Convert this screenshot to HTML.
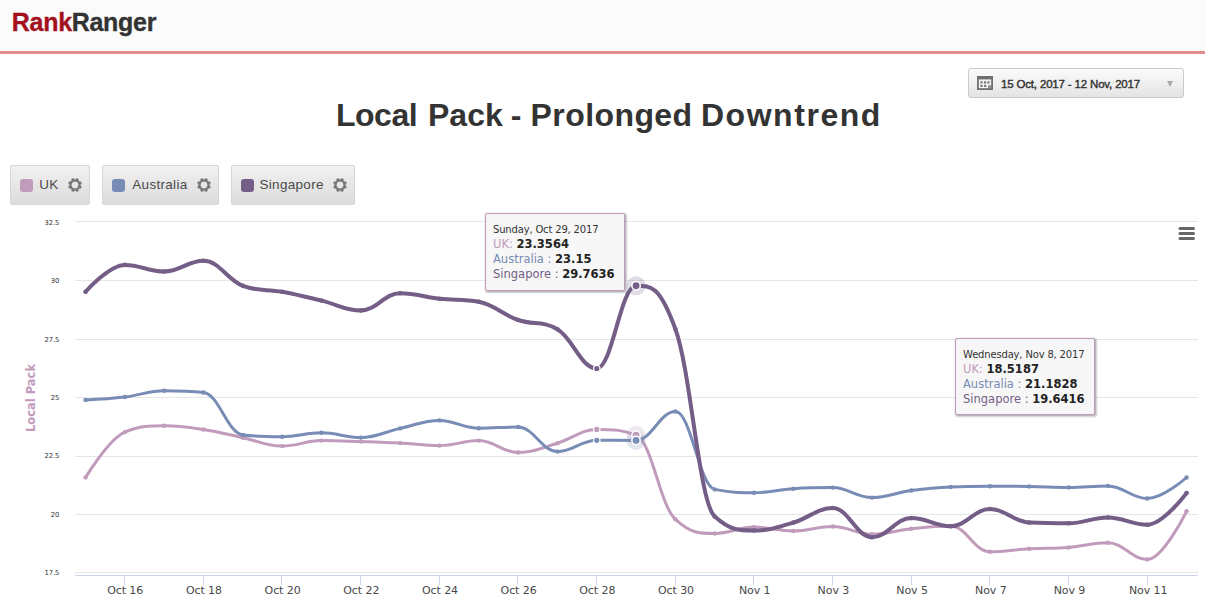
<!DOCTYPE html>
<html><head><meta charset="utf-8"><title>Local Pack - Prolonged Downtrend</title>
<style>
*{margin:0;padding:0;box-sizing:border-box}
html,body{width:1205px;height:615px;overflow:hidden;background:#fff}
body{position:relative;font-family:"Liberation Sans",Arial,sans-serif}
.hdr{position:absolute;left:0;top:0;width:1205px;height:54px;background:#fbfbfb;border-bottom:3px solid #e28c8c}
.logo{position:absolute;left:11.8px;top:6px;font:bold 25px/32px "Liberation Sans",Arial,sans-serif;letter-spacing:-0.3px;color:#333;-webkit-text-stroke:0.35px currentColor}
.logo b{color:#a3111e}
.dp{position:absolute;left:968px;top:68px;width:216px;height:30px;border:1px solid #c9c9c9;border-radius:3px;background:linear-gradient(#fbfbfb,#e4e4e4)}
.dp .cal{position:absolute;left:8px;top:7px}
.dp .dt{position:absolute;left:32px;top:8px;font:11.5px/14px "Liberation Sans",Arial,sans-serif;color:#333;-webkit-text-stroke:0.4px #333;letter-spacing:-0.17px}
.dp .ar{position:absolute;left:197.5px;top:12px;width:0;height:0;border-left:3.3px solid transparent;border-right:3.3px solid transparent;border-top:6px solid #aaa}
h1{position:absolute;left:0;width:1205px;height:40px;top:95px;font:bold 32px/40px "Liberation Sans",Arial,sans-serif;color:#333}h1 span{position:absolute;top:0;white-space:nowrap}
.lg{position:absolute;top:165px;height:40px;border:1px solid #d6d6d6;border-radius:2px;background:linear-gradient(#f1f1f1,#dcdcdc)}
.lg .sw{position:absolute;left:9px;top:12.8px;width:13px;height:13px;border-radius:3px}
.lg .ln{position:absolute;left:29.5px;top:11px;letter-spacing:0.3px;font:13.5px/16px "Liberation Sans",Arial,sans-serif;color:#4a4a4a}
.lg .gear{position:absolute;right:6px;top:11px}
.chart{position:absolute;left:0;top:0}
.xl{font:11px "DejaVu Sans",sans-serif;fill:#484848;letter-spacing:-0.08px}
.yl{font:6.8px "DejaVu Sans",sans-serif;fill:#333;letter-spacing:-0.05px}
.yt{font:bold 11.5px "DejaVu Sans",sans-serif;fill:#c19bbb}
.tt{font:11.5px "DejaVu Sans",sans-serif;fill:#333;letter-spacing:0px}
.th{font-size:10px;letter-spacing:-0.17px}
.tv{font-weight:bold;fill:#222}
</style></head><body>
<div class="hdr"><div class="logo"><b>Rank</b>Ranger</div></div>
<div class="dp"><svg class="cal" width="16" height="14" viewBox="0 0 16 14"><rect x="0" y="0" width="16" height="14" fill="#6f6f6f"/><rect x="1.8" y="3.4" width="12.4" height="8.8" fill="#f2f2f2"/><g fill="#777"><rect x="3.4" y="5.3" width="2.2" height="2.2"/><rect x="7" y="5.3" width="2.2" height="2.2"/><rect x="10.4" y="5.3" width="2.2" height="2.2"/><rect x="3.4" y="8.8" width="2.2" height="2.2"/><rect x="7" y="8.8" width="2.2" height="2.2"/></g><rect x="11.3" y="9.4" width="3" height="3" fill="#6f6f6f"/><path d="M12.4 11.8 L13.6 10.3" stroke="#ddd" stroke-width="0.8"/></svg><span class="dt">15 Oct, 2017 - 12 Nov, 2017</span><span class="ar"></span></div>
<h1><span style="left:336px;letter-spacing:-0.5px">Local</span> <span style="left:428px">Pack</span> <span style="left:510.8px">-</span> <span style="left:530.6px;letter-spacing:0.41px">Prolonged</span> <span style="left:700.9px;letter-spacing:1.55px">Downtrend</span></h1>
<div class="lg" style="left:10px;width:80px"><span class="sw" style="background:#c19bbb"></span><span class="ln" style="left:28.3px">UK</span><svg class="gear" width="16" height="16" viewBox="-8 -8 16 16"><g fill="#787878"><circle cx="4.90" cy="2.03" r="1.75"/><circle cx="2.03" cy="4.90" r="1.75"/><circle cx="-2.03" cy="4.90" r="1.75"/><circle cx="-4.90" cy="2.03" r="1.75"/><circle cx="-4.90" cy="-2.03" r="1.75"/><circle cx="-2.03" cy="-4.90" r="1.75"/><circle cx="2.03" cy="-4.90" r="1.75"/><circle cx="4.90" cy="-2.03" r="1.75"/><circle r="4.45" fill="none" stroke="#787878" stroke-width="1.9"/></g></svg></div><div class="lg" style="left:102px;width:117px"><span class="sw" style="background:#788cb5"></span><span class="ln" style="left:29.3px">Australia</span><svg class="gear" width="16" height="16" viewBox="-8 -8 16 16"><g fill="#787878"><circle cx="4.90" cy="2.03" r="1.75"/><circle cx="2.03" cy="4.90" r="1.75"/><circle cx="-2.03" cy="4.90" r="1.75"/><circle cx="-4.90" cy="2.03" r="1.75"/><circle cx="-4.90" cy="-2.03" r="1.75"/><circle cx="-2.03" cy="-4.90" r="1.75"/><circle cx="2.03" cy="-4.90" r="1.75"/><circle cx="4.90" cy="-2.03" r="1.75"/><circle r="4.45" fill="none" stroke="#787878" stroke-width="1.9"/></g></svg></div><div class="lg" style="left:231px;width:124px"><span class="sw" style="background:#745e87"></span><span class="ln" style="left:27.5px">Singapore</span><svg class="gear" width="16" height="16" viewBox="-8 -8 16 16"><g fill="#787878"><circle cx="4.90" cy="2.03" r="1.75"/><circle cx="2.03" cy="4.90" r="1.75"/><circle cx="-2.03" cy="4.90" r="1.75"/><circle cx="-4.90" cy="2.03" r="1.75"/><circle cx="-4.90" cy="-2.03" r="1.75"/><circle cx="-2.03" cy="-4.90" r="1.75"/><circle cx="2.03" cy="-4.90" r="1.75"/><circle cx="4.90" cy="-2.03" r="1.75"/><circle r="4.45" fill="none" stroke="#787878" stroke-width="1.9"/></g></svg></div>
<svg class="chart" width="1205" height="615" viewBox="0 0 1205 615">
<path d="M 75 221.5 L 1198 221.5" stroke="#e6e6e6" stroke-width="1"/>
<path d="M 75 280.5 L 1198 280.5" stroke="#e6e6e6" stroke-width="1"/>
<path d="M 75 339.5 L 1198 339.5" stroke="#e6e6e6" stroke-width="1"/>
<path d="M 75 397.5 L 1198 397.5" stroke="#e6e6e6" stroke-width="1"/>
<path d="M 75 456.5 L 1198 456.5" stroke="#e6e6e6" stroke-width="1"/>
<path d="M 75 514.5 L 1198 514.5" stroke="#e6e6e6" stroke-width="1"/>
<path d="M 75 572.5 L 1198 572.5" stroke="#e6e6e6" stroke-width="1"/>
<path d="M 75 575.5 L 1198 575.5" stroke="#ccd6eb" stroke-width="1"/>
<path d="M 124.5 575 L 124.5 585" stroke="#ccd6eb" stroke-width="1"/>
<text x="125.2" y="594" text-anchor="middle" class="xl">Oct 16</text>
<path d="M 203.5 575 L 203.5 585" stroke="#ccd6eb" stroke-width="1"/>
<text x="203.9" y="594" text-anchor="middle" class="xl">Oct 18</text>
<path d="M 281.5 575 L 281.5 585" stroke="#ccd6eb" stroke-width="1"/>
<text x="282.6" y="594" text-anchor="middle" class="xl">Oct 20</text>
<path d="M 360.5 575 L 360.5 585" stroke="#ccd6eb" stroke-width="1"/>
<text x="361.3" y="594" text-anchor="middle" class="xl">Oct 22</text>
<path d="M 439.5 575 L 439.5 585" stroke="#ccd6eb" stroke-width="1"/>
<text x="440.0" y="594" text-anchor="middle" class="xl">Oct 24</text>
<path d="M 517.5 575 L 517.5 585" stroke="#ccd6eb" stroke-width="1"/>
<text x="518.6" y="594" text-anchor="middle" class="xl">Oct 26</text>
<path d="M 596.5 575 L 596.5 585" stroke="#ccd6eb" stroke-width="1"/>
<text x="597.3" y="594" text-anchor="middle" class="xl">Oct 28</text>
<path d="M 675.5 575 L 675.5 585" stroke="#ccd6eb" stroke-width="1"/>
<text x="676.0" y="594" text-anchor="middle" class="xl">Oct 30</text>
<path d="M 753.5 575 L 753.5 585" stroke="#ccd6eb" stroke-width="1"/>
<text x="754.7" y="594" text-anchor="middle" class="xl">Nov 1</text>
<path d="M 832.5 575 L 832.5 585" stroke="#ccd6eb" stroke-width="1"/>
<text x="833.4" y="594" text-anchor="middle" class="xl">Nov 3</text>
<path d="M 911.5 575 L 911.5 585" stroke="#ccd6eb" stroke-width="1"/>
<text x="912.1" y="594" text-anchor="middle" class="xl">Nov 5</text>
<path d="M 989.5 575 L 989.5 585" stroke="#ccd6eb" stroke-width="1"/>
<text x="990.8" y="594" text-anchor="middle" class="xl">Nov 7</text>
<path d="M 1068.5 575 L 1068.5 585" stroke="#ccd6eb" stroke-width="1"/>
<text x="1069.5" y="594" text-anchor="middle" class="xl">Nov 9</text>
<path d="M 1147.5 575 L 1147.5 585" stroke="#ccd6eb" stroke-width="1"/>
<text x="1148.2" y="594" text-anchor="middle" class="xl">Nov 11</text>
<text x="59.4" y="225.0" text-anchor="end" class="yl">32.5</text>
<text x="59.4" y="283.3" text-anchor="end" class="yl">30</text>
<text x="59.4" y="341.6" text-anchor="end" class="yl">27.5</text>
<text x="59.4" y="400.0" text-anchor="end" class="yl">25</text>
<text x="59.4" y="458.3" text-anchor="end" class="yl">22.5</text>
<text x="59.4" y="516.6" text-anchor="end" class="yl">20</text>
<text x="59.4" y="574.9" text-anchor="end" class="yl">17.5</text>
<text transform="translate(34.5 398) rotate(-90)" text-anchor="middle" class="yt">Local Pack</text>
<path d="M 85.60 477.40 C 85.60 477.40 109.19 438.40 124.92 432.10 C 140.65 425.80 148.51 425.80 164.24 425.80 C 179.97 425.80 187.83 427.12 203.56 429.50 C 219.29 431.88 227.15 434.38 242.88 437.70 C 258.61 441.02 266.47 446.10 282.20 446.10 C 297.93 446.10 305.79 440.60 321.52 440.60 C 337.25 440.60 345.11 441.10 360.84 441.60 C 376.57 442.10 384.43 442.30 400.16 443.10 C 415.89 443.90 423.75 445.60 439.48 445.60 C 455.21 445.60 463.07 440.60 478.80 440.60 C 494.53 440.60 502.39 452.50 518.12 452.50 C 533.85 452.50 541.71 447.82 557.44 443.20 C 573.17 438.58 581.03 429.40 596.76 429.40 C 612.49 429.40 620.35 429.40 636.08 435.20 C 651.81 441.00 659.67 505.10 675.40 519.30 C 691.13 533.50 698.99 533.50 714.72 533.50 C 730.45 533.50 738.31 527.10 754.04 527.10 C 769.77 527.10 777.63 531.00 793.36 531.00 C 809.09 531.00 816.95 526.50 832.68 526.50 C 848.41 526.50 856.27 534.20 872.00 534.20 C 887.73 534.20 895.59 530.34 911.32 528.70 C 927.05 527.06 934.91 526.00 950.64 526.00 C 966.37 526.00 974.23 551.80 989.96 551.80 C 1005.69 551.80 1013.55 549.58 1029.28 548.70 C 1045.01 547.82 1052.87 548.60 1068.60 547.40 C 1084.33 546.20 1092.19 542.70 1107.92 542.70 C 1123.65 542.70 1131.51 559.40 1147.24 559.40 C 1162.97 559.40 1186.56 511.30 1186.56 511.30" fill="none" stroke="#c19bbb" stroke-width="3" stroke-linejoin="round" stroke-linecap="round"/>
<circle cx="85.60" cy="477.40" r="2.2" fill="#c19bbb"/><circle cx="124.92" cy="432.10" r="2.2" fill="#c19bbb"/><circle cx="164.24" cy="425.80" r="2.2" fill="#c19bbb"/><circle cx="203.56" cy="429.50" r="2.2" fill="#c19bbb"/><circle cx="242.88" cy="437.70" r="2.2" fill="#c19bbb"/><circle cx="282.20" cy="446.10" r="2.2" fill="#c19bbb"/><circle cx="321.52" cy="440.60" r="2.2" fill="#c19bbb"/><circle cx="360.84" cy="441.60" r="2.2" fill="#c19bbb"/><circle cx="400.16" cy="443.10" r="2.2" fill="#c19bbb"/><circle cx="439.48" cy="445.60" r="2.2" fill="#c19bbb"/><circle cx="478.80" cy="440.60" r="2.2" fill="#c19bbb"/><circle cx="518.12" cy="452.50" r="2.2" fill="#c19bbb"/><circle cx="557.44" cy="443.20" r="2.2" fill="#c19bbb"/><circle cx="596.76" cy="429.40" r="2.2" fill="#c19bbb"/><circle cx="636.08" cy="435.20" r="2.2" fill="#c19bbb"/><circle cx="675.40" cy="519.30" r="2.2" fill="#c19bbb"/><circle cx="714.72" cy="533.50" r="2.2" fill="#c19bbb"/><circle cx="754.04" cy="527.10" r="2.2" fill="#c19bbb"/><circle cx="793.36" cy="531.00" r="2.2" fill="#c19bbb"/><circle cx="832.68" cy="526.50" r="2.2" fill="#c19bbb"/><circle cx="872.00" cy="534.20" r="2.2" fill="#c19bbb"/><circle cx="911.32" cy="528.70" r="2.2" fill="#c19bbb"/><circle cx="950.64" cy="526.00" r="2.2" fill="#c19bbb"/><circle cx="989.96" cy="551.80" r="2.2" fill="#c19bbb"/><circle cx="1029.28" cy="548.70" r="2.2" fill="#c19bbb"/><circle cx="1068.60" cy="547.40" r="2.2" fill="#c19bbb"/><circle cx="1107.92" cy="542.70" r="2.2" fill="#c19bbb"/><circle cx="1147.24" cy="559.40" r="2.2" fill="#c19bbb"/><circle cx="1186.56" cy="511.30" r="2.2" fill="#c19bbb"/>
<path d="M 85.60 399.90 C 85.60 399.90 109.19 398.84 124.92 397.00 C 140.65 395.16 148.51 390.70 164.24 390.70 C 179.97 390.70 187.83 390.70 203.56 392.50 C 219.29 394.30 227.15 433.10 242.88 434.90 C 258.61 436.70 266.47 436.70 282.20 436.70 C 297.93 436.70 305.79 432.80 321.52 432.80 C 337.25 432.80 345.11 437.60 360.84 437.60 C 376.57 437.60 384.43 431.84 400.16 428.40 C 415.89 424.96 423.75 420.40 439.48 420.40 C 455.21 420.40 463.07 428.20 478.80 428.20 C 494.53 428.20 502.39 427.00 518.12 427.00 C 533.85 427.00 541.71 451.60 557.44 451.60 C 573.17 451.60 581.03 440.30 596.76 440.30 C 612.49 440.30 620.35 440.40 636.08 440.40 C 651.81 440.40 659.67 411.50 675.40 411.50 C 691.13 411.50 698.99 486.10 714.72 489.40 C 730.45 492.70 738.31 492.70 754.04 492.70 C 769.77 492.70 777.63 489.72 793.36 488.70 C 809.09 487.68 816.95 487.60 832.68 487.60 C 848.41 487.60 856.27 497.60 872.00 497.60 C 887.73 497.60 895.59 492.64 911.32 490.50 C 927.05 488.36 934.91 487.50 950.64 486.90 C 966.37 486.30 974.23 486.30 989.96 486.30 C 1005.69 486.30 1013.55 486.30 1029.28 486.40 C 1045.01 486.50 1052.87 487.40 1068.60 487.40 C 1084.33 487.40 1092.19 485.90 1107.92 485.90 C 1123.65 485.90 1131.51 498.50 1147.24 498.50 C 1162.97 498.50 1186.56 477.50 1186.56 477.50" fill="none" stroke="#788cb5" stroke-width="3" stroke-linejoin="round" stroke-linecap="round"/>
<circle cx="85.60" cy="399.90" r="2.2" fill="#788cb5"/><circle cx="124.92" cy="397.00" r="2.2" fill="#788cb5"/><circle cx="164.24" cy="390.70" r="2.2" fill="#788cb5"/><circle cx="203.56" cy="392.50" r="2.2" fill="#788cb5"/><circle cx="242.88" cy="434.90" r="2.2" fill="#788cb5"/><circle cx="282.20" cy="436.70" r="2.2" fill="#788cb5"/><circle cx="321.52" cy="432.80" r="2.2" fill="#788cb5"/><circle cx="360.84" cy="437.60" r="2.2" fill="#788cb5"/><circle cx="400.16" cy="428.40" r="2.2" fill="#788cb5"/><circle cx="439.48" cy="420.40" r="2.2" fill="#788cb5"/><circle cx="478.80" cy="428.20" r="2.2" fill="#788cb5"/><circle cx="518.12" cy="427.00" r="2.2" fill="#788cb5"/><circle cx="557.44" cy="451.60" r="2.2" fill="#788cb5"/><circle cx="596.76" cy="440.30" r="2.2" fill="#788cb5"/><circle cx="636.08" cy="440.40" r="2.2" fill="#788cb5"/><circle cx="675.40" cy="411.50" r="2.2" fill="#788cb5"/><circle cx="714.72" cy="489.40" r="2.2" fill="#788cb5"/><circle cx="754.04" cy="492.70" r="2.2" fill="#788cb5"/><circle cx="793.36" cy="488.70" r="2.2" fill="#788cb5"/><circle cx="832.68" cy="487.60" r="2.2" fill="#788cb5"/><circle cx="872.00" cy="497.60" r="2.2" fill="#788cb5"/><circle cx="911.32" cy="490.50" r="2.2" fill="#788cb5"/><circle cx="950.64" cy="486.90" r="2.2" fill="#788cb5"/><circle cx="989.96" cy="486.30" r="2.2" fill="#788cb5"/><circle cx="1029.28" cy="486.40" r="2.2" fill="#788cb5"/><circle cx="1068.60" cy="487.40" r="2.2" fill="#788cb5"/><circle cx="1107.92" cy="485.90" r="2.2" fill="#788cb5"/><circle cx="1147.24" cy="498.50" r="2.2" fill="#788cb5"/><circle cx="1186.56" cy="477.50" r="2.2" fill="#788cb5"/>
<path d="M 85.60 291.80 C 85.60 291.80 109.19 264.90 124.92 264.90 C 140.65 264.90 148.51 271.50 164.24 271.50 C 179.97 271.50 187.83 260.80 203.56 260.80 C 219.29 260.80 227.15 279.80 242.88 285.80 C 258.61 291.80 266.47 288.84 282.20 291.80 C 297.93 294.76 305.79 296.86 321.52 300.60 C 337.25 304.34 345.11 310.50 360.84 310.50 C 376.57 310.50 384.43 293.20 400.16 293.20 C 415.89 293.20 423.75 297.00 439.48 298.70 C 455.21 300.40 463.07 298.70 478.80 301.70 C 494.53 304.70 502.39 314.48 518.12 320.00 C 533.85 325.52 541.71 320.00 557.44 329.30 C 573.17 338.60 581.03 368.50 596.76 368.50 C 612.49 368.50 620.35 285.80 636.08 285.80 C 651.81 285.80 659.67 285.80 675.40 329.00 C 691.13 372.20 698.99 502.50 714.72 516.50 C 730.45 530.50 738.31 530.50 754.04 530.50 C 769.77 530.50 777.63 527.10 793.36 522.60 C 809.09 518.10 816.95 508.00 832.68 508.00 C 848.41 508.00 856.27 537.20 872.00 537.20 C 887.73 537.20 895.59 518.10 911.32 518.10 C 927.05 518.10 934.91 526.30 950.64 526.30 C 966.37 526.30 974.23 509.00 989.96 509.00 C 1005.69 509.00 1013.55 521.70 1029.28 522.50 C 1045.01 523.30 1052.87 523.30 1068.60 523.30 C 1084.33 523.30 1092.19 517.50 1107.92 517.50 C 1123.65 517.50 1131.51 524.70 1147.24 524.70 C 1162.97 524.70 1186.56 493.10 1186.56 493.10" fill="none" stroke="#745e87" stroke-width="4" stroke-linejoin="round" stroke-linecap="round"/>
<circle cx="85.60" cy="291.80" r="2.3" fill="#745e87"/><circle cx="124.92" cy="264.90" r="2.3" fill="#745e87"/><circle cx="164.24" cy="271.50" r="2.3" fill="#745e87"/><circle cx="203.56" cy="260.80" r="2.3" fill="#745e87"/><circle cx="242.88" cy="285.80" r="2.3" fill="#745e87"/><circle cx="282.20" cy="291.80" r="2.3" fill="#745e87"/><circle cx="321.52" cy="300.60" r="2.3" fill="#745e87"/><circle cx="360.84" cy="310.50" r="2.3" fill="#745e87"/><circle cx="400.16" cy="293.20" r="2.3" fill="#745e87"/><circle cx="439.48" cy="298.70" r="2.3" fill="#745e87"/><circle cx="478.80" cy="301.70" r="2.3" fill="#745e87"/><circle cx="518.12" cy="320.00" r="2.3" fill="#745e87"/><circle cx="557.44" cy="329.30" r="2.3" fill="#745e87"/><circle cx="596.76" cy="368.50" r="2.3" fill="#745e87"/><circle cx="636.08" cy="285.80" r="2.3" fill="#745e87"/><circle cx="675.40" cy="329.00" r="2.3" fill="#745e87"/><circle cx="714.72" cy="516.50" r="2.3" fill="#745e87"/><circle cx="754.04" cy="530.50" r="2.3" fill="#745e87"/><circle cx="793.36" cy="522.60" r="2.3" fill="#745e87"/><circle cx="832.68" cy="508.00" r="2.3" fill="#745e87"/><circle cx="872.00" cy="537.20" r="2.3" fill="#745e87"/><circle cx="911.32" cy="518.10" r="2.3" fill="#745e87"/><circle cx="950.64" cy="526.30" r="2.3" fill="#745e87"/><circle cx="989.96" cy="509.00" r="2.3" fill="#745e87"/><circle cx="1029.28" cy="522.50" r="2.3" fill="#745e87"/><circle cx="1068.60" cy="523.30" r="2.3" fill="#745e87"/><circle cx="1107.92" cy="517.50" r="2.3" fill="#745e87"/><circle cx="1147.24" cy="524.70" r="2.3" fill="#745e87"/><circle cx="1186.56" cy="493.10" r="2.3" fill="#745e87"/>
<circle cx="596.76" cy="429.40" r="3.2" fill="#c19bbb" stroke="#fff" stroke-width="1.2"/>
<circle cx="596.76" cy="440.30" r="3.2" fill="#788cb5" stroke="#fff" stroke-width="1.2"/>
<circle cx="596.76" cy="368.50" r="3.2" fill="#745e87" stroke="#fff" stroke-width="1.2"/>
<circle cx="636.08" cy="435.20" r="9.5" fill="#c19bbb" fill-opacity="0.22"/>
<circle cx="636.08" cy="440.40" r="9.5" fill="#788cb5" fill-opacity="0.22"/>
<circle cx="636.08" cy="285.80" r="9.5" fill="#745e87" fill-opacity="0.22"/>
<circle cx="636.08" cy="435.20" r="4.2" fill="#c19bbb" stroke="#fff" stroke-width="1.5"/>
<circle cx="636.08" cy="440.40" r="4.2" fill="#788cb5" stroke="#fff" stroke-width="1.5"/>
<circle cx="636.08" cy="285.80" r="4.2" fill="#745e87" stroke="#fff" stroke-width="1.5"/>
<path d="M 1180 228.5 L 1193.5 228.5" stroke="#666" stroke-width="3" stroke-linecap="round"/>
<path d="M 1180 233.5 L 1193.5 233.5" stroke="#666" stroke-width="3" stroke-linecap="round"/>
<path d="M 1180 238.5 L 1193.5 238.5" stroke="#666" stroke-width="3" stroke-linecap="round"/>
<rect x="485.5" y="213.5" width="139" height="77" rx="1.5" fill="none" stroke="#000" stroke-opacity="0.05" stroke-width="5" transform="translate(1 1)"/><rect x="485.5" y="213.5" width="139" height="77" rx="1.5" fill="none" stroke="#000" stroke-opacity="0.10" stroke-width="3" transform="translate(1 1)"/><rect x="485.5" y="213.5" width="139" height="77" rx="1.5" fill="none" stroke="#000" stroke-opacity="0.15" stroke-width="1" transform="translate(1 1)"/><rect x="485.5" y="213.5" width="139" height="77" rx="1.5" fill="#f7f7f7" fill-opacity="0.95" stroke="#c19bbb" stroke-width="1"/><text x="493.0" y="232.7" class="tt"><tspan class="th">Sunday, Oct 29, 2017</tspan><tspan x="493.0" dy="15" fill="#c19bbb">UK: </tspan><tspan class="tv">23.3564</tspan><tspan x="493.0" dy="15" fill="#788cb5">Australia : </tspan><tspan class="tv">23.15</tspan><tspan x="493.0" dy="15" fill="#745e87">Singapore : </tspan><tspan class="tv">29.7636</tspan></text>
<rect x="955.5" y="338.5" width="139" height="76" rx="1.5" fill="none" stroke="#000" stroke-opacity="0.05" stroke-width="5" transform="translate(1 1)"/><rect x="955.5" y="338.5" width="139" height="76" rx="1.5" fill="none" stroke="#000" stroke-opacity="0.10" stroke-width="3" transform="translate(1 1)"/><rect x="955.5" y="338.5" width="139" height="76" rx="1.5" fill="none" stroke="#000" stroke-opacity="0.15" stroke-width="1" transform="translate(1 1)"/><rect x="955.5" y="338.5" width="139" height="76" rx="1.5" fill="#f7f7f7" fill-opacity="0.95" stroke="#c19bbb" stroke-width="1"/><text x="963.0" y="357.7" class="tt"><tspan class="th">Wednesday, Nov 8, 2017</tspan><tspan x="963.0" dy="15" fill="#c19bbb">UK: </tspan><tspan class="tv">18.5187</tspan><tspan x="963.0" dy="15" fill="#788cb5">Australia : </tspan><tspan class="tv">21.1828</tspan><tspan x="963.0" dy="15" fill="#745e87">Singapore : </tspan><tspan class="tv">19.6416</tspan></text>
</svg>
</body></html>
